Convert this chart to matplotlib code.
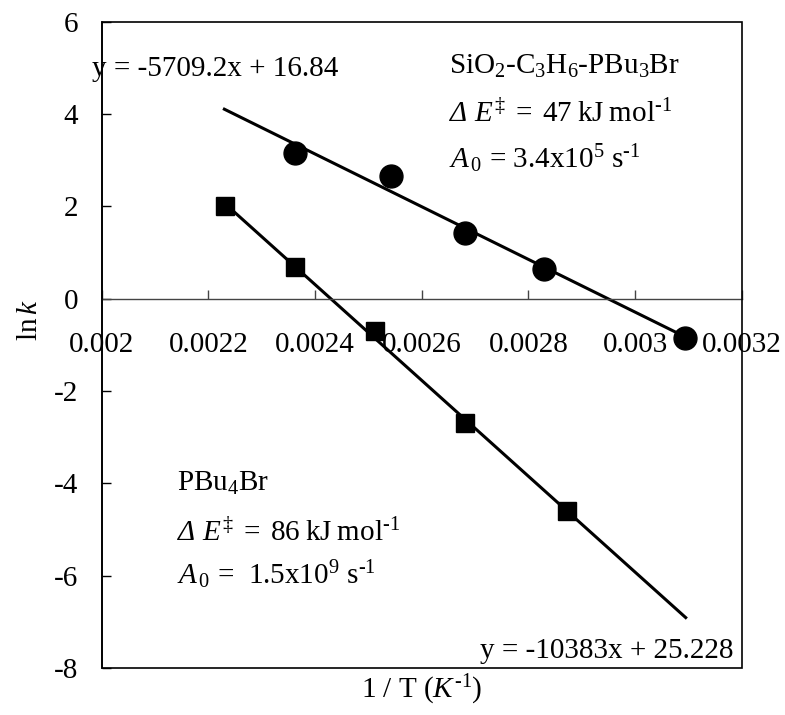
import matplotlib
matplotlib.use("Agg")
import matplotlib.pyplot as plt
from matplotlib.patches import Rectangle
import numpy as np

# ---- data ----
circ_x = [0.002362, 0.002542, 0.002681, 0.002829, 0.003093]
circ_y = [3.15, 2.67, 1.42, 0.65, -0.85]
sq_x = [0.002231, 0.002362, 0.002512, 0.002681, 0.002873]
sq_y = [2.00, 0.68, -0.70, -2.70, -4.60]
fit1 = (-5709.2, 16.84)
fit2 = (-10383.0, 25.228)
fit_range = [0.00223, 0.003095]
xticks = [0.002, 0.0022, 0.0024, 0.0026, 0.0028, 0.003, 0.0032]
xtick_labels = ["0.002", "0.0022", "0.0024", "0.0026", "0.0028", "0.003", "0.0032"]
yticks = [-8, -6, -4, -2, 0, 2, 4, 6]
ytick_labels = ["-8", "-6", "-4", "-2", "0", "2", "4", "6"]

plt.rcParams['font.family'] = ['Liberation Serif', 'DejaVu Serif']
plt.rcParams['mathtext.fontset'] = 'custom'
plt.rcParams['mathtext.rm'] = 'Liberation Serif'
plt.rcParams['mathtext.it'] = 'Liberation Serif:italic'
plt.rcParams['mathtext.bf'] = 'Liberation Serif:bold'
plt.rcParams['axes.unicode_minus'] = False

W, H = 785, 715
fig = plt.figure(figsize=(W / 100, H / 100), dpi=100)
L, R, T, B = 101.7, 741.7, 21.9, 668.0
ax = fig.add_axes([L / W, 1 - B / H, (R - L) / W, (B - T) / H])
ax.set_xlim(0.002, 0.0032)
ax.set_ylim(-8, 6)

fs = 21

# trendlines
xf = np.array(fit_range)
ax.plot(xf, fit1[0] * xf + fit1[1], color='black', lw=2.2, zorder=2)
ax.plot(xf, fit2[0] * xf + fit2[1], color='black', lw=2.2, zorder=2)

ax.plot(circ_x, circ_y, 'o', color='black', ms=16.5, zorder=3, clip_on=False)
ax.plot(sq_x, sq_y, 's', color='black', ms=12.5, zorder=3, clip_on=False)

# axes styling
for s in ['top', 'right']:
    ax.spines[s].set_visible(False)
ax.spines['bottom'].set_position(('data', 0))
ax.spines['bottom'].set_color('#444444')
ax.spines['bottom'].set_linewidth(1.0)
ax.spines['left'].set_linewidth(1.2)
ax.add_patch(Rectangle((0, 0), 1, 1, transform=ax.transAxes, fill=False,
                       edgecolor='black', lw=1.2, clip_on=False, zorder=5))

ax.set_xticks(xticks)
ax.set_xticklabels(xtick_labels)
ax.set_yticks(yticks)
ax.set_yticklabels(ytick_labels)
ax.tick_params(axis='x', direction='in', length=6.5, width=1, color='#444444',
               labelsize=fs, pad=24)
ax.tick_params(axis='y', direction='in', length=6.5, width=1, labelsize=fs, pad=17)

# annotations
ax.text(0.001981, 4.97, "y = -5709.2x + 16.84", fontsize=fs, ha='left', va='center',
        clip_on=False)
ax.text(0.003184, -7.64, "y = -10383x + 25.228", fontsize=fs, ha='right', va='center')

ax.text(0.002652, 5.03, r"SiO$_2$-C$_3$H$_6$-PBu$_3$Br", fontsize=fs, ha='left', va='center')
ax.text(0.002652, 4.01, r"Δ E$^{\,‡}$$\mathrm{\;{=}\;47\;kJ\;mol}^{\text{-}1}$",
        fontsize=fs, ha='left', va='center', style='italic')
ax.text(0.002652, 3.04, r"$\mathit{A}_{\,0}$ = 3.4x10$^{5}$ s$^{\text{-}1}$",
        fontsize=fs, ha='left', va='center')

ax.text(0.002141, -4.0, r"PBu$_4$Br", fontsize=fs, ha='left', va='center')
ax.text(0.002141, -5.08, r"Δ E$^{\,‡}$$\mathrm{\;{=}\;86\;kJ\;mol}^{\text{-}1}$",
        fontsize=fs, ha='left', va='center', style='italic')
ax.text(0.002141, -5.98, r"$\mathit{A}_{\,0}$ =  1.5x10$^{9}$ s$^{\text{-}1}$",
        fontsize=fs, ha='left', va='center')

fig.text(421.7 / W, 1 - 690 / H, r"1 / T ($\mathit{K}^{\text{-}1}$)", fontsize=fs,
         ha='center', va='center')
fig.text(30 / W, 1 - 320 / H, r"ln$\,\mathit{k}$", fontsize=fs, ha='center',
         va='center', rotation=90)

fig.savefig("out.png", dpi=100)
